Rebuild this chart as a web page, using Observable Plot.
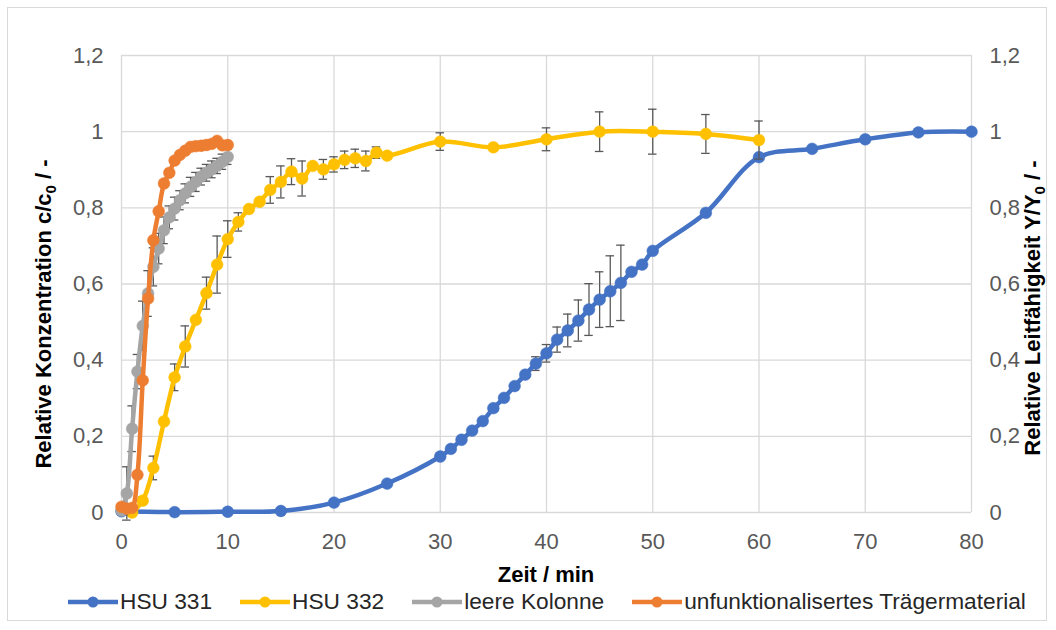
<!DOCTYPE html>
<html>
<head>
<meta charset="utf-8">
<script src="https://cdn.jsdelivr.net/npm/d3@7"></script>
<script src="https://cdn.jsdelivr.net/npm/@observablehq/plot@0.6"></script>
<style>
  html, body { margin: 0; padding: 0; background: #fff; }
  #wrap { position: relative; width: 1056px; height: 630px; font-family: "Liberation Sans", Arial, sans-serif; }
  #frame { position: absolute; left: 7px; top: 7px; width: 1040px; height: 614px; border: 1px solid #d9d9d9; box-sizing: border-box; pointer-events: none; }
  #legend { position: absolute; left: 68px; top: 588px; display: flex; align-items: center; font-size: 22.7px; color: #262626; white-space: nowrap; }
  .item { display: flex; align-items: center; margin-right: 28px; }
  .item svg { margin-right: 2px; }
</style>
</head>
<body>
<div id="wrap"><div id="chart"></div><div id="legend"></div><div id="frame"></div></div>
<script>
// ---- Data ----
const seriesNames = ["HSU 331", "HSU 332", "leere Kolonne", "unfunktionalisertes Trägermaterial"];
const seriesColors = ["#4472C4", "#FFC000", "#A5A5A5", "#ED7D31"];

const hsu331_t = [0, 5, 10, 15, 20, 25, 30, 31, 32, 33, 34, 35, 36, 37, 38, 39, 40, 41, 42, 43, 44, 45, 46, 47, 48, 49, 50, 55, 60, 65, 70, 75, 80];
const hsu331_v = [0.003, 0.001, 0.002, 0.004, 0.026, 0.076, 0.147, 0.167, 0.191, 0.215, 0.240, 0.274, 0.301, 0.332, 0.362, 0.391, 0.418, 0.454, 0.478, 0.504, 0.533, 0.559, 0.581, 0.603, 0.632, 0.651, 0.687, 0.787, 0.933, 0.955, 0.980, 0.998, 1.0];
const hsu331_err = [0, 0, 0, 0, 0, 0, 0, 0, 0, 0, 0, 0, 0, 0, 0, 0.018, 0.023, 0.033, 0.043, 0.054, 0.068, 0.073, 0.093, 0.099, 0, 0, 0, 0, 0, 0, 0, 0, 0];

const hsu332_t = [1, 2, 3, 4, 5, 6, 7, 8, 9, 10, 11, 12, 13, 14, 15, 16, 17, 18, 19, 20, 21, 22, 23, 24, 25, 30, 35, 40, 45, 50, 55, 60];
const hsu332_v = [0, 0.031, 0.117, 0.239, 0.355, 0.436, 0.506, 0.576, 0.651, 0.718, 0.763, 0.797, 0.816, 0.847, 0.868, 0.895, 0.877, 0.910, 0.901, 0.914, 0.926, 0.930, 0.923, 0.945, 0.937, 0.974, 0.959, 0.980, 1.0, 1.0, 0.994, 0.978];
const hsu332_err = [0, 0.01, 0.031, 0, 0.035, 0.054, 0, 0.042, 0.075, 0.048, 0.024, 0, 0, 0.035, 0.042, 0.034, 0.046, 0, 0.026, 0.02, 0.023, 0.024, 0.026, 0.015, 0, 0.023, 0, 0.03, 0.052, 0.059, 0.051, 0.05];

const leer_t = [0, 0.5, 1, 1.5, 2, 2.5, 3, 3.5, 4, 4.5, 5, 5.5, 6, 6.5, 7, 7.5, 8, 8.5, 9, 9.5, 10];
const leer_v = [0.005, 0.05, 0.22, 0.37, 0.49, 0.575, 0.645, 0.693, 0.741, 0.775, 0.798, 0.82, 0.838, 0.855, 0.868, 0.882, 0.892, 0.901, 0.91, 0.921, 0.934];
const leer_err = [0, 0.07, 0.06, 0.045, 0.065, 0.06, 0.05, 0.04, 0.035, 0.03, 0.03, 0.025, 0.025, 0.025, 0.025, 0.022, 0.022, 0.022, 0.02, 0.02, 0.02];

const traeger_t = [0, 0.5, 1, 1.5, 2, 2.5, 3, 3.5, 4, 4.5, 5, 5.5, 6, 6.5, 7, 7.5, 8, 8.5, 9, 9.5, 10];
const traeger_v = [0.015, 0.01, 0.012, 0.099, 0.347, 0.562, 0.715, 0.791, 0.864, 0.892, 0.924, 0.939, 0.95, 0.96, 0.962, 0.963, 0.965, 0.968, 0.976, 0.964, 0.965];

const xTicks = [0, 10, 20, 30, 40, 50, 60, 70, 80];
const yTicks = [0, 0.2, 0.4, 0.6, 0.8, 1.0, 1.2];

// ---- Build tables ----
function rows(name, ts, vs, es) {
  return ts.map((t, i) => ({series: name, t, v: vs[i], e: es ? es[i] : 0}));
}
const s331 = rows(seriesNames[0], hsu331_t, hsu331_v, hsu331_err);
const s332 = rows(seriesNames[1], hsu332_t, hsu332_v, hsu332_err);
const sLeer = rows(seriesNames[2], leer_t, leer_v, leer_err);
const sTr = rows(seriesNames[3], traeger_t, traeger_v, null);
const all = [s331, s332, sLeer, sTr];

const fmt = d => String(+d.toFixed(1)).replace(".", ",");
const errColor = "#595959";

const marks = [
  Plot.gridX(xTicks, {stroke: "#d9d9d9", strokeOpacity: 1, strokeWidth: 1.3}),
  Plot.gridY(yTicks, {stroke: "#d9d9d9", strokeOpacity: 1, strokeWidth: 1.3}),
  Plot.axisX({ticks: xTicks, tickSize: 0, tickPadding: 21, tickFormat: fmt, label: null, fill: "#595959"}),
  Plot.axisY({anchor: "left", ticks: yTicks, tickSize: 0, tickPadding: 18, tickFormat: fmt, label: null, fill: "#595959"}),
  Plot.axisY({anchor: "right", ticks: yTicks, tickSize: 0, tickPadding: 18, tickFormat: fmt, label: null, fill: "#595959"})
];

all.forEach((data, k) => {
  const col = seriesColors[k];
  const ed = data.filter(d => d.e > 0);
  marks.push(
    Plot.ruleX(ed, {x: "t", y1: d => d.v - d.e, y2: d => d.v + d.e, stroke: errColor, strokeWidth: 1.3}),
    Plot.ruleY(ed, {y: d => d.v - d.e, x1: d => d.t - 0.4, x2: d => d.t + 0.4, stroke: errColor, strokeWidth: 1.3}),
    Plot.ruleY(ed, {y: d => d.v + d.e, x1: d => d.t - 0.4, x2: d => d.t + 0.4, stroke: errColor, strokeWidth: 1.3}),
    Plot.line(data, {x: "t", y: "v", stroke: col, strokeWidth: 4.5, curve: "catmull-rom"}),
    Plot.dot(data, {x: "t", y: "v", r: 5.9, fill: col, stroke: col, strokeWidth: 0.5})
  );
});

const svg = Plot.plot({
  width: 1056,
  height: 590,
  marginTop: 55,
  marginBottom: 78,
  marginLeft: 121,
  marginRight: 85,
  x: {domain: [0, 80]},
  y: {domain: [0, 1.2]},
  style: {fontFamily: "'Liberation Sans', Arial, sans-serif", fontSize: "22px", background: "transparent", overflow: "visible"},
  marks
});

const s = d3.select(svg);
// x title
s.append("text").attr("x", 546).attr("y", 582).attr("text-anchor", "middle")
  .attr("font-weight", "bold").attr("font-size", 22).attr("fill", "#000").text("Zeit / min");
// y titles
function yTitle(x, y, pre, sub, post) {
  const t = s.append("text").attr("transform", `translate(${x},${y}) rotate(-90)`)
    .attr("text-anchor", "middle").attr("font-weight", "bold").attr("font-size", 22).attr("fill", "#000");
  t.append("tspan").text(pre);
  t.append("tspan").attr("font-size", 15).attr("dy", 5).text(sub);
  t.append("tspan").attr("dy", -5).text(post);
}
yTitle(51, 314, "Relative Konzentration c/c", "0", " / -");
yTitle(1040, 308, "Relative Leitfähigkeit Y/Y", "0", " / -");

document.getElementById("chart").appendChild(svg);

// legend
const leg = d3.select("#legend");
seriesNames.forEach((n, i) => {
  const it = leg.append("div").attr("class", "item");
  const sv = it.append("svg").attr("width", 50).attr("height", 14);
  sv.append("line").attr("x1", 0).attr("x2", 50).attr("y1", 7).attr("y2", 7).attr("stroke", seriesColors[i]).attr("stroke-width", 4.5);
  sv.append("circle").attr("cx", 25).attr("cy", 7).attr("r", 5.5).attr("fill", seriesColors[i]);
  it.append("span").text(n);
});
</script>
</body>
</html>
